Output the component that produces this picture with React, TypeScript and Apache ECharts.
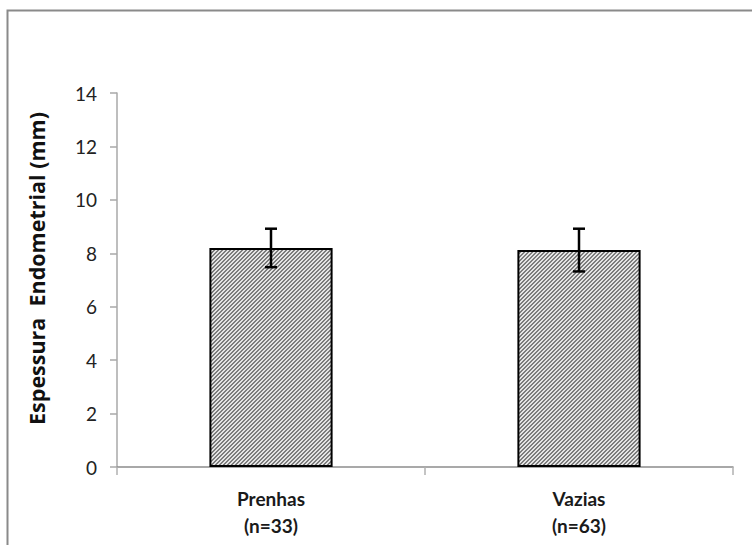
import React, { useEffect, useRef } from "react";
import * as echarts from "echarts";

// Endometrial thickness by pregnancy outcome
const categories = ["Prenhas\n(n=33)", "Vazias\n(n=63)"];
const means = [8.2, 8.12];
const errors = [0.72, 0.8];
const yTicks = { min: 0, max: 14, interval: 2 };

const FONT = "Lato, 'Liberation Sans', sans-serif";

function makeHatch(): HTMLCanvasElement {
  const c = document.createElement("canvas");
  c.width = 4;
  c.height = 4;
  const ctx = c.getContext("2d")!;
  ctx.fillStyle = "#e4e4e4";
  ctx.fillRect(0, 0, 4, 4);
  ctx.fillStyle = "#7c7c7c";
  // diagonal "/" stripe, 2px thick
  for (let i = 0; i < 4; i++) {
    const y = 3 - i;
    ctx.fillRect(i, y, 1, 1);
    ctx.fillRect((i + 1) % 4, y, 1, 1);
  }
  return c;
}

export default function App() {
  const ref = useRef<HTMLDivElement>(null);

  useEffect(() => {
    if (!ref.current) return;
    const chart = echarts.init(ref.current, null, { renderer: "svg" });
    const hatch = makeHatch();

    chart.setOption({
      animation: false,
      backgroundColor: "#ffffff",
      graphic: [
        {
          type: "rect",
          left: 5,
          top: 8,
          shape: { width: 800, height: 600 },
          style: { fill: "none", stroke: "#8a8a8a", lineWidth: 2 },
          silent: true,
        },
        {
          type: "text",
          left: 25,
          top: 112,
          rotation: Math.PI / 2,
          style: {
            text: "Espessura  Endometrial (mm)",
            font: `bold 21.5px 'Open Sans', sans-serif`,
            fill: "#111",
          },
        },
      ],
      grid: { left: 117, right: 19, top: 93, bottom: 78 },
      xAxis: {
        type: "category",
        data: categories,
        axisLine: { lineStyle: { color: "#8c8c8c", width: 1.5 } },
        axisTick: {
          show: true,
          length: 8,
          alignWithLabel: false,
          lineStyle: { color: "#b0b0b0", width: 1.5 },
        },
        axisLabel: {
          margin: 18,
          fontFamily: FONT,
          fontWeight: "bold",
          fontSize: 19,
          lineHeight: 27,
          color: "#1a1a1a",
        },
      },
      yAxis: {
        type: "value",
        min: yTicks.min,
        max: yTicks.max,
        interval: yTicks.interval,
        splitLine: { show: false },
        axisLine: { show: true, lineStyle: { color: "#a8a8a8", width: 1.5 } },
        axisTick: {
          show: true,
          length: 7,
          lineStyle: { color: "#a8a8a8", width: 1.5 },
        },
        axisLabel: {
          margin: 20,
          fontFamily: FONT,
          fontSize: 19,
          color: "#222",
        },
      },
      series: [
        {
          type: "bar",
          data: means,
          barWidth: "40%",
          itemStyle: {
            color: { image: hatch, repeat: "repeat" },
            borderColor: "#000",
            borderWidth: 2,
          },
        },
        {
          type: "custom",
          data: means.map((m, i) => [i, m - errors[i], m + errors[i]]),
          renderItem: (_params: any, api: any) => {
            const x = api.value(0);
            const lo = api.coord([x, api.value(1)]);
            const hi = api.coord([x, api.value(2)]);
            const half = 6;
            const style = { stroke: "#000", lineWidth: 2.5 };
            return {
              type: "group",
              children: [
                { type: "line", shape: { x1: lo[0], y1: lo[1], x2: hi[0], y2: hi[1] }, style },
                { type: "line", shape: { x1: hi[0] - half, y1: hi[1], x2: hi[0] + half, y2: hi[1] }, style },
                { type: "line", shape: { x1: lo[0] - half, y1: lo[1], x2: lo[0] + half, y2: lo[1] }, style },
              ],
            };
          },
          z: 5,
        },
      ],
    });

    return () => chart.dispose();
  }, []);

  return <div ref={ref} style={{ width: 752, height: 545, position: "absolute", left: 0, top: 0 }} />;
}
